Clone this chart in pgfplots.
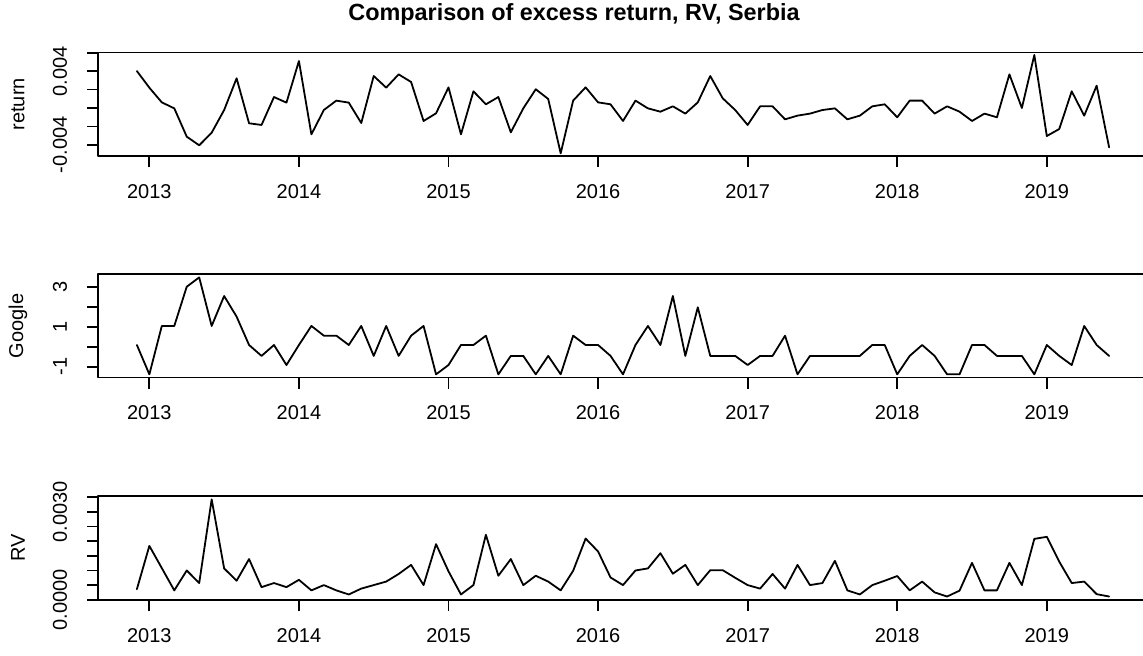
\documentclass[border=0pt]{standalone}
\usepackage{fontspec}
\setmainfont{Liberation Sans}
\usepackage{pgfplots}
\usepackage{pgfplotstable}
\pgfplotsset{compat=1.18}
\pgfplotstableread{
i ret goo rv
0 0.00401 0.09 0.00036
1 0.00220 -1.39 0.00184
2 0.00061 1.05 0.00108
3 -0.00004 1.05 0.00032
4 -0.00311 3.03 0.00100
5 -0.00405 3.50 0.00057
6 -0.00268 1.05 0.00343
7 -0.00022 2.56 0.00107
8 0.00322 1.52 0.00065
9 -0.00166 0.09 0.00139
10 -0.00184 -0.46 0.00043
11 0.00119 0.09 0.00057
12 0.00058 -0.92 0.00043
13 0.00510 0.09 0.00068
14 -0.00286 1.05 0.00032
15 -0.00022 0.56 0.00050
16 0.00080 0.56 0.00032
17 0.00058 0.09 0.00018
18 -0.00163 1.05 0.00038
19 0.00347 -0.46 0.00050
20 0.00221 1.05 0.00062
21 0.00365 -0.46 0.00088
22 0.00282 0.56 0.00119
23 -0.00141 1.05 0.00050
24 -0.00058 -1.39 0.00190
25 0.00224 -0.92 0.00097
26 -0.00286 0.09 0.00018
27 0.00181 0.09 0.00050
28 0.00040 0.56 0.00222
29 0.00119 -1.39 0.00082
30 -0.00264 -0.46 0.00139
31 -0.00004 -0.46 0.00050
32 0.00203 -1.39 0.00082
33 0.00098 -0.46 0.00062
34 -0.00492 -1.39 0.00032
35 0.00080 0.56 0.00099
36 0.00224 0.09 0.00209
37 0.00061 0.09 0.00165
38 0.00040 -0.46 0.00076
39 -0.00141 -1.39 0.00050
40 0.00080 0.09 0.00100
41 -0.00004 1.05 0.00107
42 -0.00040 0.09 0.00159
43 0.00018 2.56 0.00089
44 -0.00061 -0.46 0.00119
45 0.00061 1.99 0.00050
46 0.00347 -0.46 0.00101
47 0.00105 -0.46 0.00101
48 -0.00022 -0.46 0.00075
49 -0.00184 -0.92 0.00050
50 0.00018 -0.46 0.00038
51 0.00018 -0.46 0.00088
52 -0.00123 0.56 0.00038
53 -0.00083 -1.39 0.00119
54 -0.00061 -0.46 0.00050
55 -0.00022 -0.46 0.00057
56 -0.00004 -0.46 0.00133
57 -0.00123 -0.46 0.00032
58 -0.00083 -0.46 0.00018
59 0.00018 0.09 0.00050
60 0.00040 0.09 0.00065
61 -0.00101 -1.39 0.00081
62 0.00080 -0.46 0.00032
63 0.00080 0.09 0.00062
64 -0.00061 -0.46 0.00025
65 0.00018 -1.39 0.00011
66 -0.00040 -1.39 0.00031
67 -0.00141 0.09 0.00126
68 -0.00061 0.09 0.00032
69 -0.00101 -0.46 0.00032
70 0.00365 -0.46 0.00126
71 0.00000 -0.46 0.00050
72 0.00575 -1.39 0.00208
73 -0.00304 0.09 0.00215
74 -0.00228 -0.46 0.00130
75 0.00181 -0.92 0.00057
76 -0.00083 1.05 0.00062
77 0.00242 0.09 0.00019
78 -0.00427 -0.46 0.00011
}\data

\pgfplotsset{
 rstyle/.style={
  scale only axis, width=525pt, xmin=-3.12, xmax=81.12,
  anchor=north west,
  axis line style={line width=0.9pt},
  every tick/.style={line width=0.9pt, black},
  tick align=outside, major tick length=5.5pt,
  xtick={1,13,25,37,49,61,73},
  xticklabels={2013,2014,2015,2016,2017,2018,2019},
  tick pos=left,
  scaled y ticks=false,
  ticklabel style={font=\fontsize{10}{12}\selectfont},
  xticklabel style={anchor=center, yshift=-12.3pt},
  yticklabel style={anchor=center, xshift=-13.5pt, rotate=90},
  every axis y label/.style={at={(axis description cs:-0.0762,0.5)}, rotate=90, anchor=center, font=\fontsize{10}{12}\selectfont},
  line join=round,
 },
 rline/.style={black, line width=0.9pt, line join=round, line cap=round}
}

\begin{document}
\begin{tikzpicture}
\node[font=\bfseries\fontsize{11.7}{14}\selectfont] at (287pt,-7pt) {Comparison of excess return, RV, Serbia};

\begin{axis}[rstyle, at={(49pt,-26.25pt)}, height=51.75pt,
  ymin=-0.00521, ymax=0.00602,
  ytick={-0.004,-0.002,0,0.002,0.004,0.006},
  yticklabels={-0.004,,,,0.004,},
  ylabel={return}]
\addplot[rline] table[x=i,y=ret]{\data};
\end{axis}

\begin{axis}[rstyle, at={(49pt,-137pt)}, height=51.75pt,
  ymin=-1.55, ymax=3.67,
  ytick={-1,0,1,2,3},
  yticklabels={-1,,1,,3},
  ylabel={Google}]
\addplot[rline] table[x=i,y=goo]{\data};
\end{axis}

\begin{axis}[rstyle, at={(49pt,-248pt)}, height=52pt,
  ymin=-0.00001, ymax=0.003545,
  ytick={0,0.0005,0.001,0.0015,0.002,0.0025,0.003,0.0035},
  yticklabels={0.0000,,,,,,0.0030,},
  ylabel={RV}]
\addplot[rline] table[x=i,y=rv]{\data};
\end{axis}

\pgfresetboundingbox
\path[use as bounding box] (0,0) rectangle (571.5pt,-327.5pt);
\end{tikzpicture}
\end{document}
